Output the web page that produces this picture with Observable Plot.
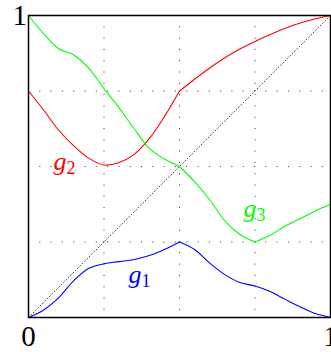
<!DOCTYPE html>
<html><head><meta charset="utf-8">
<script src="https://cdn.jsdelivr.net/npm/d3@7"></script>
<script src="https://cdn.jsdelivr.net/npm/@observablehq/plot@0.6"></script>
<style>body{margin:0;background:#fff}</style>
</head><body><div id="chart"></div>
<script>
const xs = [0,0.05,0.1,0.15,0.2,0.25,0.3,0.35,0.4,0.45,0.5,0.55,0.6,0.65,0.7,0.75,0.8,0.85,0.9,0.95,1];
const g1 = [0,0.025,0.066,0.122,0.163,0.178,0.185,0.192,0.205,0.225,0.25,0.225,0.18,0.142,0.116,0.104,0.086,0.06,0.035,0.013,0];
const g2 = [0.75,0.687,0.62,0.568,0.527,0.505,0.513,0.54,0.592,0.665,0.75,0.789,0.826,0.86,0.889,0.914,0.937,0.958,0.975,0.989,1];
const g3 = [1,0.94,0.89,0.869,0.825,0.758,0.694,0.625,0.56,0.525,0.5,0.45,0.39,0.32,0.275,0.25,0.272,0.303,0.328,0.353,0.375];
const g1Breaks = [0.5];
const g2Breaks = [0.5];
const g3Breaks = [0.5, 0.75];
const seriesColors = ["#0000ff", "#ff0000", "#00ff00"];
const gridTicks = [0.25, 0.5, 0.75];
const diagonal = [0, 1];
const xTickValues = [0, 1];
const xTickLabels = ["0", "1"];
const yTickValues = [1];
const yTickLabels = ["1"];
const labelBase = ["g", "g", "g"];
const labelSub = ["1", "2", "3"];
const labelX = [0.331, 0.083, 0.712];
const labelY = [0.113, 0.49, 0.334];

function build(name, ys, brks) {
  const rows = [];
  xs.forEach((x, i) => {
    const s = brks.filter(b => b < x).length;
    rows.push({x, y: ys[i], seg: name + s});
    if (brks.includes(x)) rows.push({x, y: ys[i], seg: name + (s + 1)});
  });
  return rows;
}
const d1 = build("g1", g1, g1Breaks);
const d2 = build("g2", g2, g2Breaks);
const d3 = build("g3", g3, g3Breaks);
const labels = labelBase.map((t, i) => ({t, s: labelSub[i], x: labelX[i], y: labelY[i], c: seriesColors[i]}));

const font = "'Liberation Serif', 'DejaVu Serif', serif";
const chart = Plot.plot({
  width: 331, height: 352,
  marginLeft: 28, marginRight: 1, marginTop: 15, marginBottom: 35,
  x: {domain: [0, 1], axis: null},
  y: {domain: [0, 1], axis: null},
  style: {fontFamily: font, background: "#fff"},
  marks: [
    Plot.ruleX(gridTicks, {stroke: "#333", strokeWidth: 1, strokeDasharray: "1,10.3"}),
    Plot.ruleY(gridTicks, {stroke: "#333", strokeWidth: 1, strokeDasharray: "1,10.3"}),
    Plot.line(diagonal, {x: d => d, y: d => d, stroke: "#444", strokeWidth: 1, strokeDasharray: "1,2.3"}),
    Plot.line(d1, {x: "x", y: "y", z: "seg", curve: "catmull-rom", stroke: seriesColors[0], strokeWidth: 1.1}),
    Plot.line(d2, {x: "x", y: "y", z: "seg", curve: "catmull-rom", stroke: seriesColors[1], strokeWidth: 1.1}),
    Plot.line(d3, {x: "x", y: "y", z: "seg", curve: "catmull-rom", stroke: seriesColors[2], strokeWidth: 1.1}),
    Plot.frame({stroke: "#000", strokeWidth: 1.5}),
    Plot.text(labels, {x: "x", y: "y", text: "t", fill: "c", fontSize: 26, fontStyle: "italic", textAnchor: "start", lineAnchor: "bottom"}),
    Plot.text(labels, {x: "x", y: "y", text: "s", fill: "c", fontSize: 18, textAnchor: "start", lineAnchor: "bottom", dx: 13, dy: 4}),
    Plot.text(xTickValues, {x: d => d, frameAnchor: "bottom", text: (d, i) => xTickLabels[i], fontSize: 29, fill: "#000", dy: 28}),
    Plot.text(yTickValues, {y: d => d, frameAnchor: "left", text: (d, i) => yTickLabels[i], fontSize: 29, fill: "#000", dx: -16})
  ]
});
document.getElementById("chart").appendChild(chart);
</script>
</body></html>
